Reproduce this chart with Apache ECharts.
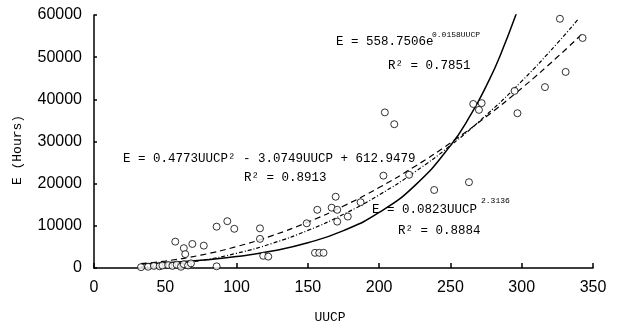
<!DOCTYPE html>
<html><head><meta charset="utf-8">
<script src="https://cdn.jsdelivr.net/npm/echarts@6/dist/echarts.min.js"></script>
<style>html,body{margin:0;padding:0;background:#fff}#c{width:625px;height:327px}</style>
</head><body><div id="c"></div>
<script>
// Observed projects (UUCP, effort hours)
const obsUUCP  = [33,38,42,46,48,52,55,58,61,63,66,68,86,
                  57,63,69,77,64,86,93.5,98.4,116.4,116.4,118.7,122.2,149.2,156.6,155,158,161,
                  166.7,169.5,170.6,170.6,178,187,203,204,210.6,221,238.6,263,266,271.9,270,
                  295,297,316.3,326.8,330.8,342.7];
const obsHours = [200,300,500,400,600,700,500,800,300,900,600,1100,400,
                  6250,4700,5700,5300,3300,9800,11100,9300,9400,6900,2900,2700,10600,13800,3600,3600,3600,
                  14300,16900,13800,11000,12200,15600,21900,36900,34100,22100,18500,20350,38900,39100,37500,
                  42000,36700,42900,59100,46500,54550];

// Trend lines
const expUUCP   = [33,50,75,100,125,150,175,200,225,250,265,275,285,300];
const expHours  = [941,1231,1827,2713,4027,5977,8872,13170,19546,29020,36771,43080,50450,63930];
const powUUCP   = [33,50,75,100,125,150,175,200,225,250,275,300,325,340];
const powHours  = [268,702,1792,3488,5846,8913,12732,17341,22778,29043,36231,44303,53314,59186];
const quadUUCP  = [33,50,75,100,125,150,175,200,225,250,275,300,325,343];
const quadHours = [1031,1652,3067,5078,7686,10891,14692,19090,24084,29675,35863,42647,50028,55713];

const xTitle = 'UUCP';
const yTitle = 'E (Hours)';
const eqExp = 'E = 558.7506e', eqExpSup = '0.0158UUCP', r2Exp = 'R² = 0.7851';
const eqQuad = 'E = 0.4773UUCP² - 3.0749UUCP + 612.9479', r2Quad = 'R² = 0.8913';
const eqPow = 'E = 0.0823UUCP', eqPowSup = '2.3136', r2Pow = 'R² = 0.8884';

const zip = (a, b) => a.map((v, i) => [v, b[i]]);
const mono = 'Liberation Mono, DejaVu Sans Mono, monospace';
const txt = (text, x, y, size, align) => ({
  type: 'text', z: 100,
  style: { text, x, y, font: size + 'px ' + mono, fill: '#000', textAlign: align || 'left', textVerticalAlign: 'middle' }
});

const chart = echarts.init(document.getElementById('c'), null, { renderer: 'canvas' });
chart.setOption({
  animation: false,
  backgroundColor: '#fff',
  grid: { left: 94, right: 32, top: 15, bottom: 59 },
  xAxis: {
    type: 'value', min: 0, max: 350, interval: 50,
    axisLine: { lineStyle: { color: '#000', width: 1.5 } },
    axisTick: { inside: true, length: 5, lineStyle: { color: '#000', width: 1.5 } },
    axisLabel: { color: '#000', fontSize: 16, fontFamily: 'Liberation Sans', margin: 12 },
    splitLine: { show: false }
  },
  yAxis: {
    type: 'value', min: 0, max: 60000, interval: 10000,
    axisLine: { show: true, lineStyle: { color: '#000', width: 1.5 } },
    axisTick: { show: true, inside: true, length: 3, lineStyle: { color: '#000', width: 1.5 } },
    axisLabel: { color: '#000', fontSize: 16, fontFamily: 'Liberation Sans', margin: 12,
                 formatter: v => String(v) },
    splitLine: { show: false }
  },
  series: [
    { type: 'line', data: zip(expUUCP, expHours), smooth: true, symbol: 'none', clip: true,
      lineStyle: { color: '#000', width: 1.5 } },
    { type: 'line', data: zip(powUUCP, powHours), smooth: true, symbol: 'none',
      lineStyle: { color: '#000', width: 1.2, type: [4, 2, 1, 2] } },
    { type: 'line', data: zip(quadUUCP, quadHours), smooth: true, symbol: 'none',
      lineStyle: { color: '#000', width: 1.2, type: [6, 4] } },
    { type: 'scatter', data: zip(obsUUCP, obsHours), symbol: 'circle', symbolSize: 7,
      itemStyle: { color: '#fff', borderColor: '#000', borderWidth: 1 }, z: 5 }
  ],
  graphic: [
    txt(eqExp, 336, 42, 12.5),
    txt(eqExpSup, 432, 35, 8),
    txt(r2Exp, 388, 66, 12.5),
    txt(eqQuad, 123, 159, 12.5),
    txt(r2Quad, 244, 178, 12.5),
    txt(eqPow, 372, 210, 12.5),
    txt(eqPowSup, 481, 201, 8),
    txt(r2Pow, 398, 231, 12.5),
    txt(xTitle, 330, 318, 13, 'center'),
    { type: 'text', z: 100, x: 18, y: 150, rotation: Math.PI / 2,
      style: { text: yTitle, x: 0, y: 0, font: '13px ' + mono, fill: '#000', textAlign: 'center', textVerticalAlign: 'middle' } }
  ]
});
</script></body></html>
